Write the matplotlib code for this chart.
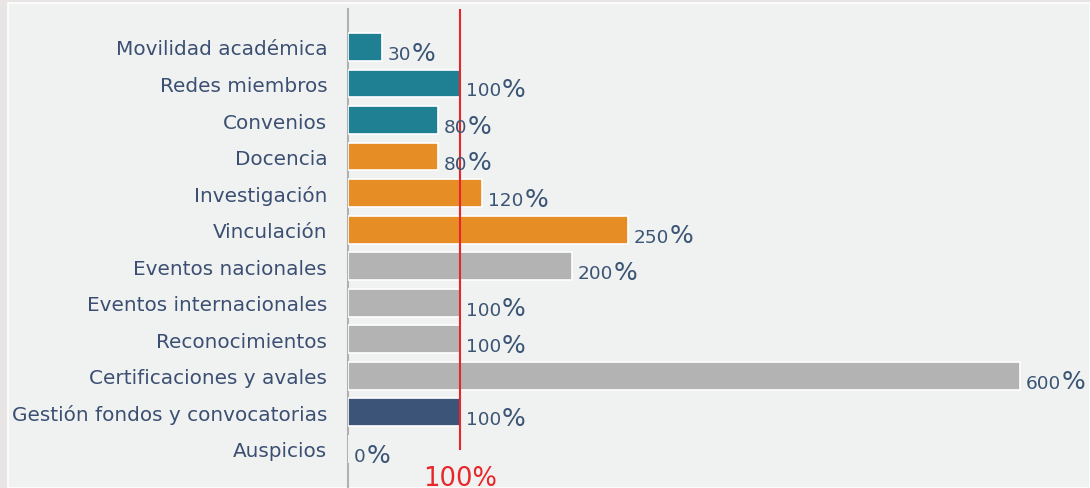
import matplotlib
matplotlib.use("Agg")
import matplotlib.pyplot as plt
from matplotlib.patches import Rectangle

categories = ["Movilidad académica", "Redes miembros", "Convenios", "Docencia",
              "Investigación", "Vinculación", "Eventos nacionales",
              "Eventos internacionales", "Reconocimientos",
              "Certificaciones y avales", "Gestión fondos y convocatorias",
              "Auspicios"]
values = [30, 100, 80, 80, 120, 250, 200, 100, 100, 600, 100, 0]
groups = ["teal", "teal", "teal", "orange", "orange", "orange",
          "gray", "gray", "gray", "gray", "navy", "navy"]
palette = {"teal": "#1f8094", "orange": "#e68d25", "gray": "#b3b3b3", "navy": "#3b5478"}
target = 100
target_label = "100%"

W, H = 1090, 489
fig = plt.figure(figsize=(W / 100, H / 100), dpi=100)
fig.patch.set_facecolor("#e8e5e4")
fig.patches.append(Rectangle((8 / W, 0), 1 - 8 / W, 1 - 4 / H, transform=fig.transFigure,
                             facecolor="#f0f1f1", edgecolor="white", linewidth=1.2, zorder=-5))

ax_left, ax_right = 348 / W, 1.0
ax_top, ax_bot = 1 - 10 / H, 0.0
ax = fig.add_axes([ax_left, ax_bot, ax_right - ax_left, ax_top - ax_bot])
ax.set_facecolor("none")
ax.set_zorder(2)

n = len(categories)
ys = list(range(n))
colors = [palette[g] for g in groups]
ax.barh(ys, values, height=0.76, color=colors, edgecolor="white", linewidth=1.2, zorder=2)

scale_px = 112 / 100
xmax = (W - 348) / scale_px
ax.set_xlim(0, xmax)
ax.set_ylim(n - 1 + 1.07, -1.04)

for s in ["top", "right", "bottom"]:
    ax.spines[s].set_visible(False)
ax.spines["left"].set_color("#b0b0b0")
ax.spines["left"].set_linewidth(1.5)
ax.spines["left"].set_zorder(1)
ax.set_xticks([])
ax.set_yticks(ys)
ax.set_yticklabels(categories, fontsize=14.4, color="#3b4f72", family="DejaVu Sans")
ax.tick_params(axis="y", length=0, pad=15)

label_color = "#3b5575"
for y, v in zip(ys, values):
    t = ax.annotate(f"{v}", xy=(v, y), xytext=(4.3, -8.6), textcoords="offset points",
                    va="baseline", ha="left", fontsize=13.3, color=label_color, zorder=4)
    ax.annotate("%", xycoords=t, xy=(1, 0), xytext=(0.5, -1.2), textcoords="offset points",
                va="bottom", ha="left", fontsize=18, color=label_color, zorder=4)

ax.plot([target, target], [-1.04, n - 1], color="#e8262a", linewidth=1.5, zorder=3)
ax.text(target, n - 1 + 0.45, target_label, color="#e8262a", fontsize=18.5,
        ha="center", va="top", zorder=4)

fig.savefig("out.png", dpi=100, facecolor=fig.get_facecolor())
